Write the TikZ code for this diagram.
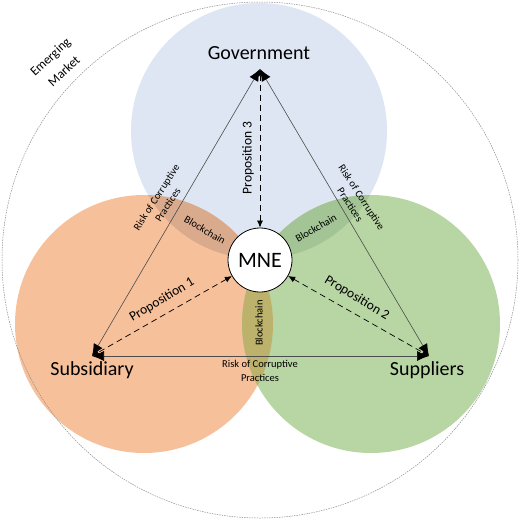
\documentclass[tikz,border=0pt]{standalone}
\usepackage{fontspec}
\setmainfont{Carlito}
\usepackage{tikz}
\usetikzlibrary{arrows.meta, positioning}
\definecolor{govblue}{RGB}{221,230,242}
\definecolor{suborange}{RGB}{246,192,154}
\definecolor{supgreen}{RGB}{184,213,164}
\definecolor{lensgs}{RGB}{218,170,141}
\definecolor{lensgp}{RGB}{163,196,149}
\definecolor{lenssp}{RGB}{188,178,108}
\tikzset{
    marketline/.style = {draw=black!45, line width=0.5pt, dash pattern=on 1.5pt off 1pt},
    mnenode/.style = {circle, draw=black, fill=white, line width=0.8pt, minimum size=64pt,
      inner sep=0pt, font=\fontsize{22}{26}\selectfont},
    vertexlabel/.style = {inner sep=0pt, anchor=base, font=\fontsize{20}{24}\selectfont},
    riskline/.style = {draw=black!70, line width=0.6pt,
      {Latex[length=12pt, width=10pt, color=black]}-{Latex[length=12pt, width=10pt, color=black]}},
    propline/.style = {draw=black, line width=0.7pt, dash pattern=on 6pt off 4pt,
      {Latex[length=7pt, width=6pt]}-{Latex[length=7pt, width=6pt]}},
    proplabel/.style = {inner sep=0pt, font=\fontsize{13.5}{16}\selectfont},
    risklabel/.style = {inner sep=0pt, align=center, font=\fontsize{10.5}{12}\selectfont},
    chainlabel/.style = {inner sep=0pt, font=\fontsize{10.5}{12}\selectfont},
    marketlabel/.style = {inner sep=0pt, align=center, font=\fontsize{13}{16}\selectfont}
}
\begin{document}
\begin{tikzpicture}[x=1pt, y=-1pt]
\useasboundingbox (0,0) rectangle (520,520);

% the three spheres
\coordinate (govc) at (259,131);
\coordinate (subc) at (144,324);
\coordinate (supc) at (371,324);
\fill[govblue] (govc) circle[radius=128pt];
\fill[suborange] (subc) circle[radius=129pt];
\fill[supgreen] (supc) circle[radius=129pt];
% overlaps (blockchain)
\begin{scope}
  \clip (govc) circle[radius=128pt];
  \fill[lensgs] (subc) circle[radius=129pt];
  \fill[lensgp] (supc) circle[radius=129pt];
\end{scope}
\begin{scope}
  \clip (subc) circle[radius=129pt];
  \fill[lenssp] (supc) circle[radius=129pt];
\end{scope}

% emerging market
\draw[marketline] (260,260) circle[radius=258pt];
\node[marketlabel, rotate=43, name=market] at (57,64) {Emerging\\[4pt]Market};

% actors
\coordinate (gov) at (260,69);
\coordinate (sub) at (92,356);
\coordinate (sup) at (429,356);
\node[vertexlabel, name=govlabel] at (259,59) {Government};
\node[vertexlabel, name=sublabel] at (92,375) {Subsidiary};
\node[vertexlabel, name=suplabel] at (427,375) {Suppliers};
\node[mnenode, name=mne] at (260,260) {MNE};

% risk of corruptive practices
\draw[riskline] (sub) -- (gov);
\draw[riskline] (gov) -- (sup);
\draw[riskline] (sub) -- (sup);
\node[risklabel, rotate=57, name=risk1] at (162,201) {Risk of Corruptive\\[1.5pt]Practices};
\node[risklabel, rotate=-57, name=risk2] at (356,201) {Risk of Corruptive\\[1.5pt]Practices};
\node[risklabel, name=risk3] at (260,371) {Risk of Corruptive\\[1.5pt]Practices};

% propositions
\draw[propline] (mne) -- (gov);
\draw[propline] (mne) -- (sub);
\draw[propline] (mne) -- (sup);
\node[proplabel, rotate=90, name=prop3] at (248,158) {Proposition 3};
\node[proplabel, rotate=31, name=prop1] at (162,300) {Proposition 1};
\node[proplabel, rotate=-31, name=prop2] at (357,298) {Proposition 2};

% blockchain
\node[chainlabel, rotate=-30, name=chain1] at (205,230) {Blockchain};
\node[chainlabel, rotate=30, name=chain2] at (316,228) {Blockchain};
\node[chainlabel, rotate=90, name=chain3] at (259,323) {Blockchain};
\end{tikzpicture}
\end{document}
